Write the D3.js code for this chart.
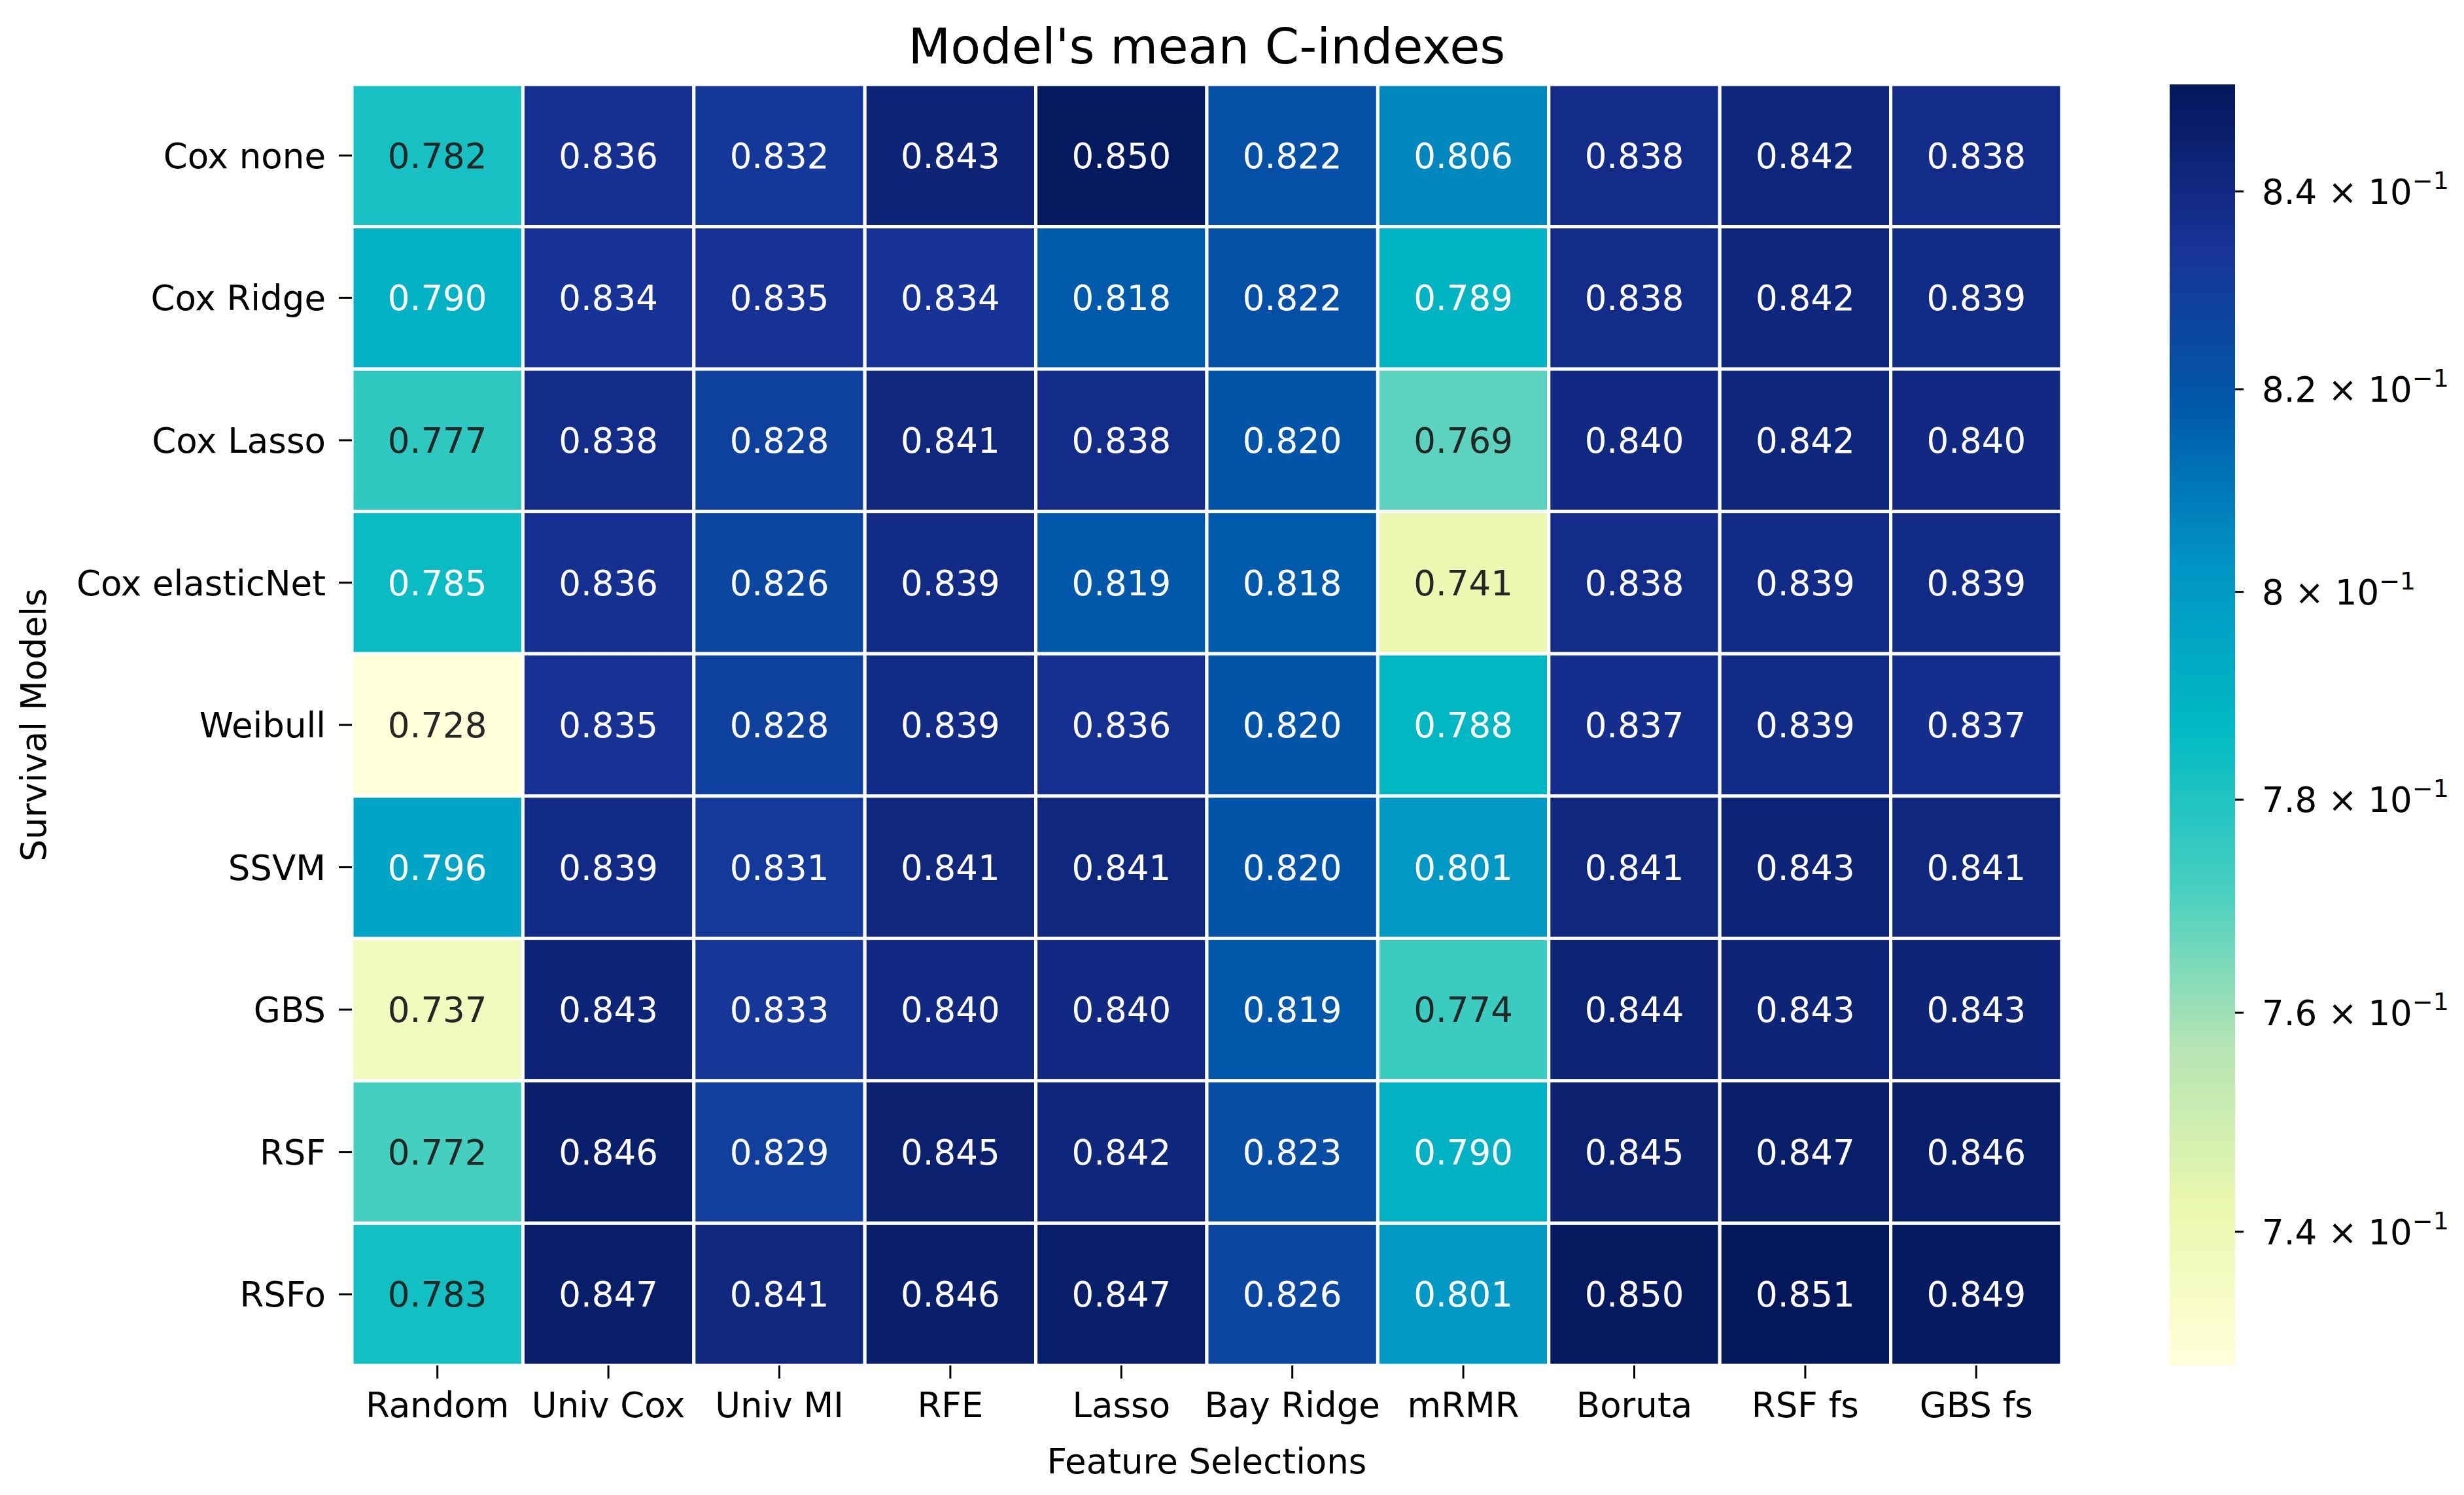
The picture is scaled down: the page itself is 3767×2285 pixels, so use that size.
<!DOCTYPE html>
<html>
<head>
<meta charset="utf-8">
<script src="https://cdn.jsdelivr.net/npm/d3@7"></script>
<style>
  body { margin: 0; background: #fff; }
  svg { display: block; font-family: "DejaVu Sans", sans-serif; }
</style>
</head>
<body>
<div id="chart"></div>
<script>
// Datos del gráfico
const models = ["Cox none", "Cox Ridge", "Cox Lasso", "Cox elasticNet", "Weibull", "SSVM", "GBS", "RSF", "RSFo"];
const selections = ["Random", "Univ Cox", "Univ MI", "RFE", "Lasso", "Bay Ridge", "mRMR", "Boruta", "RSF fs", "GBS fs"];

const cIndexes = [
  [0.782, 0.836, 0.832, 0.843, 0.850, 0.822, 0.806, 0.838, 0.842, 0.838],
  [0.790, 0.834, 0.835, 0.834, 0.818, 0.822, 0.789, 0.838, 0.842, 0.839],
  [0.777, 0.838, 0.828, 0.841, 0.838, 0.820, 0.769, 0.840, 0.842, 0.840],
  [0.785, 0.836, 0.826, 0.839, 0.819, 0.818, 0.741, 0.838, 0.839, 0.839],
  [0.728, 0.835, 0.828, 0.839, 0.836, 0.820, 0.788, 0.837, 0.839, 0.837],
  [0.796, 0.839, 0.831, 0.841, 0.841, 0.820, 0.801, 0.841, 0.843, 0.841],
  [0.737, 0.843, 0.833, 0.840, 0.840, 0.819, 0.774, 0.844, 0.843, 0.843],
  [0.772, 0.846, 0.829, 0.845, 0.842, 0.823, 0.790, 0.845, 0.847, 0.846],
  [0.783, 0.847, 0.841, 0.846, 0.847, 0.826, 0.801, 0.850, 0.851, 0.849]
];

const cbarTicks = [0.74, 0.76, 0.78, 0.80, 0.82, 0.84];
const cbarMantissas = ["7.4", "7.6", "7.8", "8", "8.2", "8.4"];

// Colores: YlGnBu tal como se ve en la figura (más saturado) y el YlGnBu original
// (este último sólo para elegir el color del texto, igual que seaborn)
const palette = ["#ffffd9", "#eaf7ae", "#b5e4b4", "#45cfc0", "#00b9c4", "#0094c4", "#0058aa", "#183296", "#03175a"];
const ylgnbu = ["#ffffd9", "#edf8b1", "#c7e9b4", "#7fcdbb", "#41b6c4", "#1d91c0", "#225ea8", "#253494", "#081d58"];

// Dimensiones
const width = 3767;
const height = 2285;
const plot = { left: 538, right: 3152, top: 129, bottom: 2087 };
const cbar = { left: 3317, width: 100 };
const fontSize = 53;

const svg = d3.select("#chart").append("svg")
  .attr("width", width)
  .attr("height", height);

// Escalas
const x = d3.scaleBand().domain(selections).range([plot.left, plot.right]);
const y = d3.scaleBand().domain(models).range([plot.top, plot.bottom]);

const allValues = cIndexes.flat();
const vMin = d3.min(allValues), vMax = d3.max(allValues);

const color = d3.scaleSequentialLog(d3.piecewise(d3.interpolateRgb, palette))
  .domain([vMin, vMax]);
const baseColor = d3.scaleSequentialLog(d3.piecewise(d3.interpolateRgb, ylgnbu))
  .domain([vMin, vMax]);

// Luminancia relativa (mismo criterio que seaborn)
function textColor(c) {
  const rgb = d3.rgb(c);
  const lin = v => { v /= 255; return v <= 0.03928 ? v / 12.92 : Math.pow((v + 0.055) / 1.055, 2.4); };
  const lum = 0.2126 * lin(rgb.r) + 0.7152 * lin(rgb.g) + 0.0722 * lin(rgb.b);
  return lum > 0.408 ? "#262626" : "#ffffff";
}

const cells = [];
cIndexes.forEach((row, i) => row.forEach((v, j) => cells.push({ model: models[i], sel: selections[j], value: v })));

// Celdas
svg.append("g").selectAll("rect")
  .data(cells)
  .enter()
  .append("rect")
  .attr("x", d => x(d.sel))
  .attr("y", d => y(d.model))
  .attr("width", x.bandwidth())
  .attr("height", y.bandwidth())
  .attr("fill", d => color(d.value))
  .attr("stroke", "#ffffff")
  .attr("stroke-width", 5);

// Anotaciones
svg.append("g").selectAll("text")
  .data(cells)
  .enter()
  .append("text")
  .attr("x", d => x(d.sel) + x.bandwidth() / 2)
  .attr("y", d => y(d.model) + y.bandwidth() / 2)
  .attr("dy", "0.36em")
  .attr("text-anchor", "middle")
  .attr("font-size", fontSize)
  .attr("fill", d => textColor(baseColor(d.value)))
  .text(d => d.value.toFixed(3));

// Ejes
const xAxis = svg.append("g")
  .attr("transform", `translate(0,${plot.bottom})`)
  .call(d3.axisBottom(x).tickSize(20).tickPadding(21));

const yAxis = svg.append("g")
  .attr("transform", `translate(${plot.left},0)`)
  .call(d3.axisLeft(y).tickSize(20).tickPadding(20));

[xAxis, yAxis].forEach(g => {
  g.select(".domain").remove();
  g.selectAll(".tick line").attr("stroke", "#000").attr("stroke-width", 3);
  g.selectAll(".tick text")
    .attr("font-size", fontSize)
    .attr("font-family", "DejaVu Sans")
    .attr("fill", "#000");
});
yAxis.selectAll(".tick text").attr("dy", "0.36em");

// Títulos
svg.append("text")
  .attr("x", (plot.left + plot.right) / 2)
  .attr("y", 97)
  .attr("text-anchor", "middle")
  .attr("font-size", 75)
  .text("Model's mean C-indexes");

svg.append("text")
  .attr("x", (plot.left + plot.right) / 2)
  .attr("y", 2252)
  .attr("text-anchor", "middle")
  .attr("font-size", fontSize)
  .text("Feature Selections");

svg.append("text")
  .attr("transform", `translate(70,${(plot.top + plot.bottom) / 2}) rotate(-90)`)
  .attr("text-anchor", "middle")
  .attr("font-size", fontSize)
  .text("Survival Models");

// Barra de color (escala logarítmica)
const cbarScale = d3.scaleLog().domain([vMin, vMax]).range([plot.bottom, plot.top]);

const grad = svg.append("defs").append("linearGradient")
  .attr("id", "cbarGrad")
  .attr("x1", 0).attr("y1", 1).attr("x2", 0).attr("y2", 0);

grad.selectAll("stop")
  .data(d3.range(0, 101))
  .enter()
  .append("stop")
  .attr("offset", d => d + "%")
  .attr("stop-color", d => color(cbarScale.invert(plot.bottom - (plot.bottom - plot.top) * d / 100)));

svg.append("rect")
  .attr("x", cbar.left)
  .attr("y", plot.top)
  .attr("width", cbar.width)
  .attr("height", plot.bottom - plot.top)
  .attr("fill", "url(#cbarGrad)");

const cAxis = svg.append("g")
  .attr("transform", `translate(${cbar.left + cbar.width},0)`)
  .call(d3.axisRight(cbarScale).tickValues(cbarTicks).tickSize(13).tickPadding(28).tickFormat(""));

cAxis.select(".domain").remove();
cAxis.selectAll(".tick line").attr("stroke", "#000").attr("stroke-width", 3);

cAxis.selectAll(".tick text").each(function(d, i) {
  const t = d3.select(this)
    .attr("font-size", fontSize)
    .attr("font-family", "DejaVu Sans")
    .attr("fill", "#000")
    .attr("dy", "0.36em");
  t.append("tspan").text(cbarMantissas[i] + " \u00d7 10");
  t.append("tspan")
    .attr("font-size", 38)
    .attr("dy", "-0.6em")
    .text("\u22121");
});
</script>
</body>
</html>
